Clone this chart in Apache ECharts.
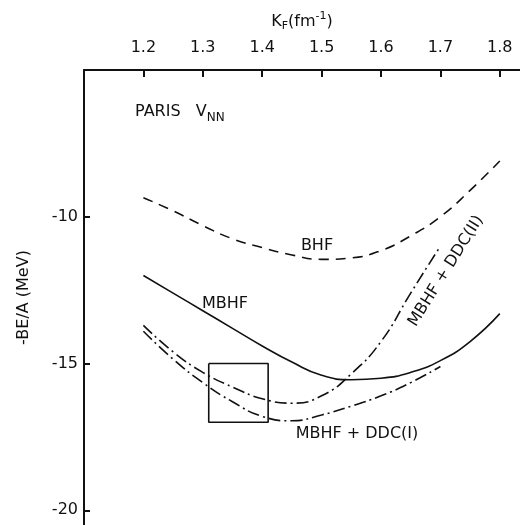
<!DOCTYPE html>
<html>
<head>
<meta charset="utf-8">
<script src="https://cdn.jsdelivr.net/npm/echarts@6/dist/echarts.min.js"></script>
<style>
  html, body { margin: 0; padding: 0; background: #fff; }
  #main { width: 520px; height: 525px; }
</style>
</head>
<body>
<div id="main"></div>
<script>
// kF (fm^-1) values
var kF = [1.20, 1.25, 1.30, 1.35, 1.40, 1.45, 1.50, 1.55, 1.60, 1.65, 1.70, 1.75, 1.80];
var bhf = [-9.35, -9.8, -10.3, -10.75, -11.05, -11.3, -11.45, -11.4, -11.15, -10.65, -10.0, -9.1, -8.1];
var mbhf = [-12.0, -12.6, -13.2, -13.8, -14.4, -14.95, -15.4, -15.55, -15.5, -15.3, -14.9, -14.25, -13.3];
var kFddc = [1.20, 1.25, 1.30, 1.35, 1.40, 1.45, 1.50, 1.55, 1.60, 1.65, 1.70];
var ddc1 = [-13.9, -14.85, -15.65, -16.3, -16.8, -16.95, -16.75, -16.45, -16.1, -15.65, -15.1];
var ddc2 = [-13.7, -14.6, -15.3, -15.8, -16.2, -16.35, -16.1, -15.35, -14.25, -12.6, -11.0];
// box marking the empirical saturation region
var boxK = [1.31, 1.41];
var boxE = [-15, -17];

var xTicks = [1.2, 1.3, 1.4, 1.5, 1.6, 1.7, 1.8];
var yTicks = [-20, -15, -10];

function pairs(xs, ys) {
    return xs.map(function (x, i) { return [x, ys[i]]; });
}

var chart = echarts.init(document.getElementById('main'));
var font = 'DejaVu Sans';
var ink = '#111';

var option = {
    backgroundColor: '#fff',
    animation: false,
    textStyle: { fontFamily: font },
    grid: { left: 84, top: 70, right: 0, bottom: 0, outerBoundsMode: 'none', containLabel: false },
    xAxis: {
        type: 'value',
        position: 'top',
        min: 1.1,
        max: 1.834,
        name: '{k|K}{s|F}{k|(fm}{p|-1}{k|)}',
        nameLocation: 'middle',
        nameGap: 38,
        nameTextStyle: {
            rich: {
                k: { fontSize: 16, color: ink, fontFamily: font },
                s: { fontSize: 11, color: ink, fontFamily: font, verticalAlign: 'bottom', padding: [10, 0, 0, 0] },
                p: { fontSize: 11, color: ink, fontFamily: font, verticalAlign: 'top', padding: [0, 0, 10, 0] }
            }
        },
        axisLine: { lineStyle: { color: ink, width: 2 } },
        axisTick: { inside: true, length: 7, lineStyle: { color: ink, width: 2 }, customValues: xTicks },
        axisLabel: {
            customValues: xTicks,
            color: ink, fontSize: 16, margin: 14,
            formatter: function (v) { return v.toFixed(1); }
        },
        splitLine: { show: false }
    },
    yAxis: {
        type: 'value',
        min: -20.5,
        max: -5,
        name: '-BE/A (MeV)',
        nameLocation: 'middle',
        nameGap: 52,
        nameRotate: 90,
        nameTextStyle: { color: ink, fontSize: 16, fontFamily: font },
        axisLine: { lineStyle: { color: ink, width: 2 } },
        axisTick: { inside: true, length: 6, lineStyle: { color: ink, width: 2 }, customValues: yTicks },
        axisLabel: { customValues: yTicks, color: ink, fontSize: 16, margin: 6 },
        splitLine: { show: false }
    },
    series: [
        {
            name: 'BHF', type: 'line', smooth: true, showSymbol: false,
            data: pairs(kF, bhf),
            lineStyle: { color: ink, width: 1.6, type: [10, 7] }
        },
        {
            name: 'MBHF', type: 'line', smooth: true, showSymbol: false,
            data: pairs(kF, mbhf),
            lineStyle: { color: ink, width: 1.6 }
        },
        {
            name: 'MBHF + DDC(I)', type: 'line', smooth: true, showSymbol: false,
            data: pairs(kFddc, ddc1),
            lineStyle: { color: ink, width: 1.6, type: [12, 4, 2, 4] }
        },
        {
            name: 'MBHF + DDC(II)', type: 'line', smooth: true, showSymbol: false,
            data: pairs(kFddc, ddc2),
            lineStyle: { color: ink, width: 1.6, type: [12, 4, 2, 4] }
        },
        {
            name: 'box', type: 'line', showSymbol: false,
            data: [[boxK[0], boxE[0]], [boxK[1], boxE[0]], [boxK[1], boxE[1]], [boxK[0], boxE[1]], [boxK[0], boxE[0]]],
            lineStyle: { color: ink, width: 1.6 }
        }
    ],
    graphic: [
        {
            type: 'text', left: 135, top: 104,
            style: {
                text: '{a|PARIS   V}{b|NN}',
                rich: {
                    a: { fontSize: 16, fill: ink, fontFamily: font },
                    b: { fontSize: 12, fill: ink, fontFamily: font, padding: [12, 0, 0, 0] }
                }
            }
        },
        { type: 'text', x: 317, y: 246, style: { text: 'BHF', fontSize: 16, fill: ink, fontFamily: font, align: 'center', verticalAlign: 'middle' } },
        { type: 'text', x: 225, y: 304, style: { text: 'MBHF', fontSize: 16, fill: ink, fontFamily: font, align: 'center', verticalAlign: 'middle' } },
        { type: 'text', x: 357, y: 434, style: { text: 'MBHF + DDC(I)', fontSize: 16, fill: ink, fontFamily: font, align: 'center', verticalAlign: 'middle' } },
        {
            type: 'text', x: 446, y: 271, rotation: 58 * Math.PI / 180,
            style: { text: 'MBHF + DDC(II)', fontSize: 16, fill: ink, fontFamily: font, align: 'center', verticalAlign: 'middle' }
        }
    ]
};
chart.setOption(option);
</script>
</body>
</html>
